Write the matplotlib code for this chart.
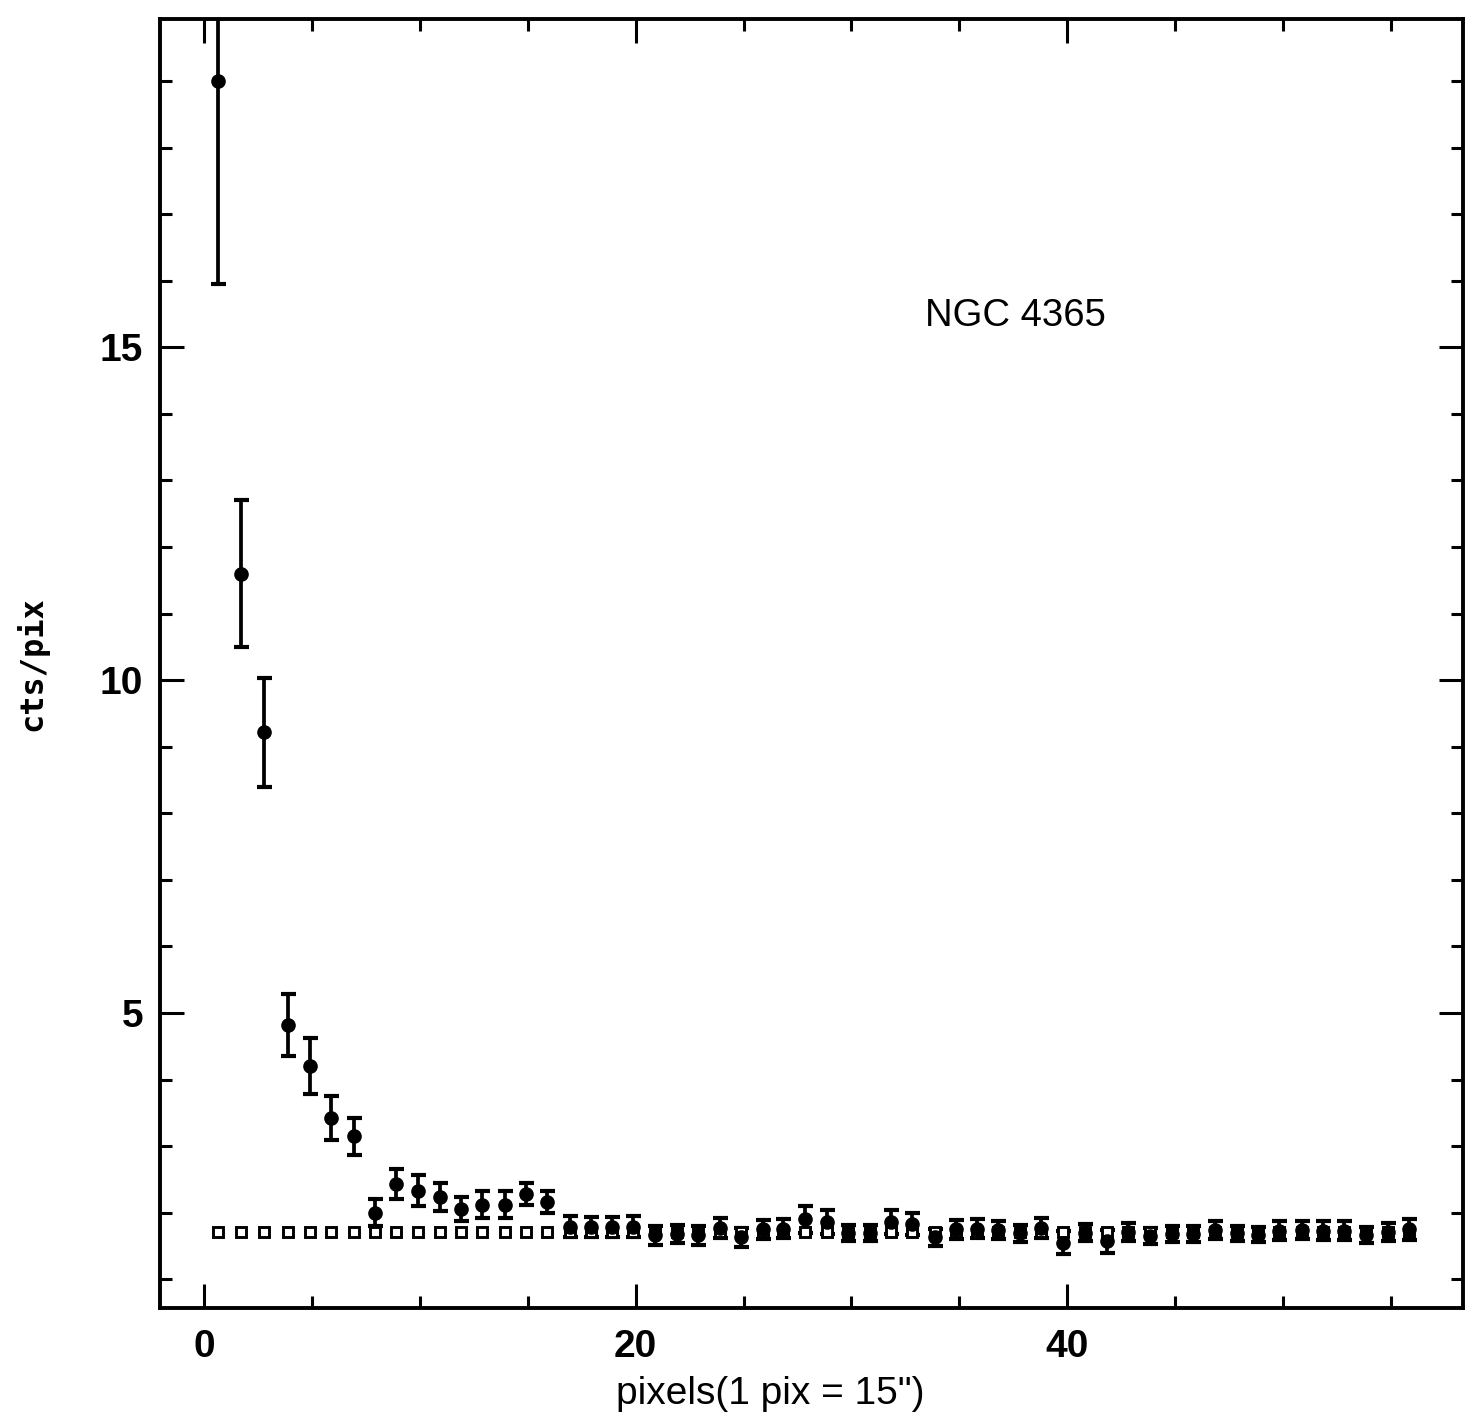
from __future__ import annotations

import matplotlib

matplotlib.use("Agg")
import matplotlib.pyplot as plt
from matplotlib.ticker import MultipleLocator

# radial profile, NGC 4365 (filled points with 1-sigma errors)
radius_pix = [
    0.63, 1.70, 2.79, 3.90, 4.91, 5.88, 6.97, 7.92, 8.88, 9.93, 10.94, 11.90, 12.90, 13.95,
    14.92, 15.88, 16.95, 17.93, 18.89, 19.88, 20.90, 21.90, 22.90, 23.90, 24.90, 25.90,
    26.85, 27.85, 28.85, 29.86, 30.86, 31.83, 32.80, 33.87, 34.85, 35.80, 36.80, 37.80,
    38.80, 39.82, 40.82, 41.83, 42.83, 43.84, 44.84, 45.84, 46.85, 47.85, 48.86, 49.83,
    50.87, 51.87, 52.83, 53.83, 54.85, 55.85,
]
source_cts = [
    19.0, 11.6, 9.22, 4.82, 4.2, 3.42, 3.15, 2.0, 2.43, 2.33, 2.24, 2.05, 2.12, 2.12,
    2.28, 2.16, 1.79, 1.78, 1.78, 1.79, 1.66, 1.68, 1.66, 1.77, 1.63, 1.75, 1.76, 1.9,
    1.86, 1.7, 1.7, 1.86, 1.83, 1.63, 1.75, 1.76, 1.74, 1.69, 1.77, 1.55, 1.7, 1.57,
    1.71, 1.65, 1.68, 1.68, 1.74, 1.69, 1.67, 1.73, 1.74, 1.73, 1.73, 1.66, 1.71, 1.75,
]
source_err = [
    3.05, 1.1, 0.82, 0.46, 0.42, 0.33, 0.28, 0.2, 0.23, 0.23, 0.21, 0.18, 0.2, 0.2,
    0.17, 0.17, 0.16, 0.15, 0.15, 0.16, 0.14, 0.14, 0.14, 0.15, 0.14, 0.14, 0.14, 0.2,
    0.18, 0.12, 0.12, 0.18, 0.17, 0.13, 0.14, 0.14, 0.14, 0.13, 0.15, 0.17, 0.13, 0.17,
    0.13, 0.12, 0.12, 0.12, 0.14, 0.11, 0.11, 0.14, 0.14, 0.14, 0.14, 0.12, 0.13, 0.16,
]
# background level (open squares)
background_cts = [
    1.71, 1.71, 1.71, 1.71, 1.71, 1.71, 1.71, 1.71, 1.71, 1.71, 1.71, 1.71, 1.71, 1.71,
    1.71, 1.71, 1.71, 1.71, 1.71, 1.71, 1.71, 1.71, 1.71, 1.71, 1.71, 1.71, 1.71, 1.71,
    1.71, 1.71, 1.71, 1.71, 1.71, 1.71, 1.71, 1.71, 1.71, 1.71, 1.71, 1.71, 1.71, 1.71,
    1.71, 1.71, 1.71, 1.71, 1.71, 1.71, 1.71, 1.71, 1.71, 1.71, 1.71, 1.71, 1.71, 1.71,
]
x_ticks = [0, 20, 40]
y_ticks = [5, 10, 15]
label_x = "pixels(1 pix = 15\")"
label_y = "cts/pix"
object_name = "NGC 4365"


def main() -> None:
    plt.rcParams["font.family"] = ["Liberation Sans", "DejaVu Sans"]
    fig = plt.figure(figsize=(14.68, 14.24), dpi=100)
    ax = fig.add_axes([0.109, 0.0815, 0.8876, 0.9055])

    ax.errorbar(radius_pix, source_cts, yerr=source_err, fmt="none", ecolor="black",
                elinewidth=2.7, capsize=5.4, capthick=3.0, zorder=2)
    ax.plot(radius_pix, background_cts, linestyle="none", marker="s", ms=7.5,
            mfc="white", mec="black", mew=2.1, zorder=3)
    ax.plot(radius_pix, source_cts, linestyle="none", marker="o", ms=9.5,
            color="black", zorder=4)

    ax.set_xlim(-2.04, 58.34)
    ax.set_ylim(0.57, 19.94)
    ax.set_xticks(x_ticks)
    ax.set_yticks(y_ticks)
    ax.xaxis.set_minor_locator(MultipleLocator(5))
    ax.yaxis.set_minor_locator(MultipleLocator(1))
    ax.tick_params(which="both", direction="in", top=True, right=True, width=2.2)
    ax.tick_params(which="major", length=17, labelsize=28)
    ax.tick_params(which="minor", length=8.5)
    ax.tick_params(axis="x", which="major", pad=15)
    ax.tick_params(axis="y", which="major", pad=12)
    for lab in ax.get_xticklabels() + ax.get_yticklabels():
        lab.set_fontweight("bold")
    for spine in ax.spines.values():
        spine.set_linewidth(2.8)

    ax.set_xlabel(label_x, fontsize=28)
    ax.xaxis.set_label_coords(0.468, -0.053)
    ax.set_ylabel(label_y, fontsize=23, family=["DejaVu Sans Mono"], fontweight="bold")
    ax.yaxis.set_label_coords(-0.086, 0.5)

    ax.text(37.6, 15.47, object_name, fontsize=27.5, ha="center", va="center")

    fig.savefig("out.png", dpi=100)
    plt.close(fig)


if __name__ == "__main__":
    main()
